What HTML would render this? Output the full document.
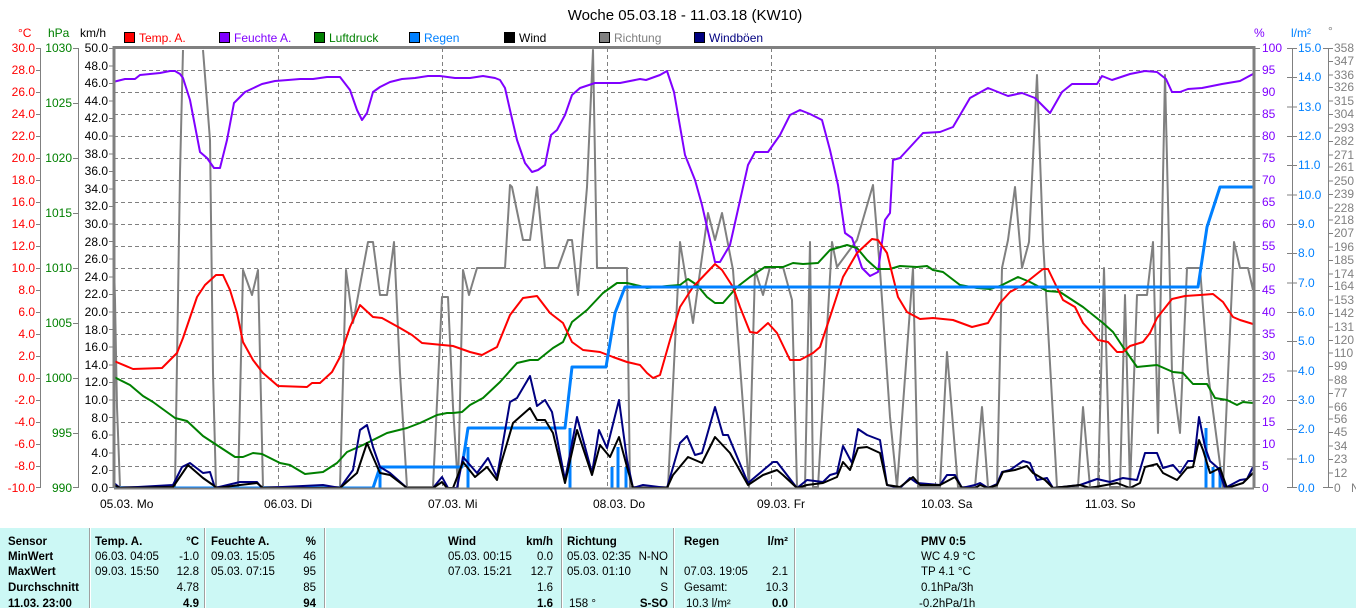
<!DOCTYPE html>
<html><head><meta charset="utf-8"><style>
html,body{margin:0;padding:0;background:#fff;}
svg{display:block;font-family:"Liberation Sans",sans-serif;}
</style></head><body>
<svg width="1356" height="608" viewBox="0 0 1356 608" xmlns="http://www.w3.org/2000/svg">
<rect width="1356" height="608" fill="#fff"/>
<text x="685" y="20" font-size="15" text-anchor="middle" fill="#000">Woche 05.03.18 - 11.03.18 (KW10)</text>
<g font-size="12">
<text x="18" y="37" fill="#f00">°C</text>
<text x="48" y="37" fill="#008000">hPa</text>
<text x="80" y="37" fill="#000">km/h</text>
<text x="1254" y="37" fill="#8000ff">%</text>
<text x="1291" y="37" fill="#0080ff">l/m²</text>
<text x="1328" y="35" fill="#808080">°</text>
</g>
<g font-size="12">
<rect x="124.5" y="32.5" width="10" height="10" fill="#f00" stroke="#000"/><text x="139" y="42" fill="#f00">Temp. A.</text>
<rect x="219.5" y="32.5" width="10" height="10" fill="#8000ff" stroke="#000"/><text x="234" y="42" fill="#8000ff">Feuchte A.</text>
<rect x="314.5" y="32.5" width="10" height="10" fill="#008000" stroke="#000"/><text x="329" y="42" fill="#008000">Luftdruck</text>
<rect x="409.5" y="32.5" width="10" height="10" fill="#0080ff" stroke="#000"/><text x="424" y="42" fill="#0080ff">Regen</text>
<rect x="504.5" y="32.5" width="10" height="10" fill="#000" stroke="#000"/><text x="519" y="42" fill="#000">Wind</text>
<rect x="599.5" y="32.5" width="10" height="10" fill="#808080" stroke="#000"/><text x="614" y="42" fill="#808080">Richtung</text>
<rect x="694.5" y="32.5" width="10" height="10" fill="#000080" stroke="#000"/><text x="709" y="42" fill="#000080">Windböen</text>
</g>
<g stroke="#808080" stroke-width="1" stroke-dasharray="4,3" fill="none">
<path d="M114 70.5H1254M114 92.5H1254M114 114.5H1254M114 136.5H1254M114 158.5H1254M114 180.5H1254M114 202.5H1254M114 224.5H1254M114 246.5H1254M114 268.5H1254M114 290.5H1254M114 312.5H1254M114 334.5H1254M114 356.5H1254M114 378.5H1254M114 400.5H1254M114 422.5H1254M114 444.5H1254M114 466.5H1254"/>
<path d="M278.5 48V488M442.5 48V488M607.5 48V488M771.5 48V488M935.5 48V488M1099.5 48V488"/>
</g>
<g stroke="#808080" stroke-width="1" fill="none">
<path d="M40.5 48V488M78.5 48V488M1292.5 48V488M1328.5 48V488"/>
<path d="M36 48.5h4M36 70.5h4M36 92.5h4M36 114.5h4M36 136.5h4M36 158.5h4M36 180.5h4M36 202.5h4M36 224.5h4M36 246.5h4M36 268.5h4M36 290.5h4M36 312.5h4M36 334.5h4M36 356.5h4M36 378.5h4M36 400.5h4M36 422.5h4M36 444.5h4M36 466.5h4M36 487.5h4"/>
<path d="M73 48.5h5M73 103.5h5M73 158.5h5M73 213.5h5M73 268.5h5M73 323.5h5M73 378.5h5M73 433.5h5M73 487.5h5"/>
<path d="M109 48.5h5M109 66h5M109 83.5h5M109 101h5M109 118.5h5M109 136h5M109 154h5M109 171.5h5M109 189h5M109 206.5h5M109 224h5M109 241.5h5M109 259h5M109 277h5M109 294.5h5M109 312h5M109 329.5h5M109 347h5M109 365h5M109 382.5h5M109 400h5M109 417.5h5M109 435h5M109 453h5M109 470.5h5M109 487.5h5"/>
<path d="M1254 48.5h6M1254 70.5h6M1254 92.5h6M1254 114.5h6M1254 136.5h6M1254 158.5h6M1254 180.5h6M1254 202.5h6M1254 224.5h6M1254 246.5h6M1254 268.5h6M1254 290.5h6M1254 312.5h6M1254 334.5h6M1254 356.5h6M1254 378.5h6M1254 400.5h6M1254 422.5h6M1254 444.5h6M1254 466.5h6M1254 487.5h6"/>
<path d="M1287 48.5h10M1287 77.5h10M1287 107h10M1287 136.5h10M1287 165.5h10M1287 195h10M1287 224.5h10M1287 253.5h10M1287 283h10M1287 312.5h10M1287 341.5h10M1287 371h10M1287 400.5h10M1287 429.5h10M1287 459h10M1287 487.5h10"/>
<path d="M1323 48.5h10M1328 61.5h5M1328 75h5M1328 87.5h5M1328 101h5M1328 114.5h5M1328 128h5M1328 141.5h5M1328 155h5M1328 167h5M1328 181h5M1328 194.5h5M1328 208h5M1328 220h5M1328 233.5h5M1328 247h5M1328 260.5h5M1328 274h5M1328 286.5h5M1328 300h5M1328 313.5h5M1328 327h5M1328 340.5h5M1328 353h5M1328 366.5h5M1328 380h5M1328 393.5h5M1328 407h5M1328 419h5M1328 432.5h5M1328 446h5M1328 459.5h5M1328 473h5M1323 487.5h10"/>
</g>
<g font-size="12" text-anchor="end" fill="#f00">
<text x="35" y="52">30.0</text><text x="35" y="74">28.0</text><text x="35" y="96">26.0</text><text x="35" y="118">24.0</text><text x="35" y="140">22.0</text><text x="35" y="162">20.0</text><text x="35" y="184">18.0</text><text x="35" y="206">16.0</text><text x="35" y="228">14.0</text><text x="35" y="250">12.0</text><text x="35" y="272">10.0</text><text x="35" y="294">8.0</text><text x="35" y="316">6.0</text><text x="35" y="338">4.0</text><text x="35" y="360">2.0</text><text x="35" y="382">0.0</text><text x="35" y="404">-2.0</text><text x="35" y="426">-4.0</text><text x="35" y="448">-6.0</text><text x="35" y="470">-8.0</text><text x="35" y="492">-10.0</text>
</g>
<g font-size="12" text-anchor="end" fill="#008000">
<text x="72" y="52">1030</text><text x="72" y="107">1025</text><text x="72" y="162">1020</text><text x="72" y="217">1015</text><text x="72" y="272">1010</text><text x="72" y="327">1005</text><text x="72" y="382">1000</text><text x="72" y="437">995</text><text x="72" y="492">990</text>
</g>
<g font-size="12" text-anchor="end" fill="#000">
<text x="108" y="52">50.0</text><text x="108" y="70">48.0</text><text x="108" y="87">46.0</text><text x="108" y="105">44.0</text><text x="108" y="122">42.0</text><text x="108" y="140">40.0</text><text x="108" y="158">38.0</text><text x="108" y="175">36.0</text><text x="108" y="193">34.0</text><text x="108" y="210">32.0</text><text x="108" y="228">30.0</text><text x="108" y="246">28.0</text><text x="108" y="263">26.0</text><text x="108" y="281">24.0</text><text x="108" y="298">22.0</text><text x="108" y="316">20.0</text><text x="108" y="334">18.0</text><text x="108" y="351">16.0</text><text x="108" y="369">14.0</text><text x="108" y="386">12.0</text><text x="108" y="404">10.0</text><text x="108" y="422">8.0</text><text x="108" y="439">6.0</text><text x="108" y="457">4.0</text><text x="108" y="474">2.0</text><text x="108" y="492">0.0</text>
</g>
<g font-size="12" fill="#8000ff">
<text x="1262" y="52">100</text><text x="1262" y="74">95</text><text x="1262" y="96">90</text><text x="1262" y="118">85</text><text x="1262" y="140">80</text><text x="1262" y="162">75</text><text x="1262" y="184">70</text><text x="1262" y="206">65</text><text x="1262" y="228">60</text><text x="1262" y="250">55</text><text x="1262" y="272">50</text><text x="1262" y="294">45</text><text x="1262" y="316">40</text><text x="1262" y="338">35</text><text x="1262" y="360">30</text><text x="1262" y="382">25</text><text x="1262" y="404">20</text><text x="1262" y="426">15</text><text x="1262" y="448">10</text><text x="1262" y="470">5</text><text x="1262" y="492">0</text>
</g>
<g font-size="12" fill="#0080ff">
<text x="1298" y="52">15.0</text><text x="1298" y="81">14.0</text><text x="1298" y="111">13.0</text><text x="1298" y="140">12.0</text><text x="1298" y="169">11.0</text><text x="1298" y="199">10.0</text><text x="1298" y="228">9.0</text><text x="1298" y="257">8.0</text><text x="1298" y="287">7.0</text><text x="1298" y="316">6.0</text><text x="1298" y="345">5.0</text><text x="1298" y="375">4.0</text><text x="1298" y="404">3.0</text><text x="1298" y="433">2.0</text><text x="1298" y="463">1.0</text><text x="1298" y="492">0.0</text>
</g>
<g font-size="12" fill="#808080">
<text x="1334" y="52">358</text><text x="1334" y="65">347</text><text x="1334" y="79">336</text><text x="1334" y="91">326</text><text x="1334" y="105">315</text><text x="1334" y="118">304</text><text x="1334" y="132">293</text><text x="1334" y="145">282</text><text x="1334" y="159">271</text><text x="1334" y="171">261</text><text x="1334" y="185">250</text><text x="1334" y="198">239</text><text x="1334" y="212">228</text><text x="1334" y="224">218</text><text x="1334" y="237">207</text><text x="1334" y="251">196</text><text x="1334" y="264">185</text><text x="1334" y="278">174</text><text x="1334" y="290">164</text><text x="1334" y="304">153</text><text x="1334" y="317">142</text><text x="1334" y="331">131</text><text x="1334" y="344">120</text><text x="1334" y="357">110</text><text x="1334" y="370">99</text><text x="1334" y="384">88</text><text x="1334" y="397">77</text><text x="1334" y="411">66</text><text x="1334" y="423">56</text><text x="1334" y="436">45</text><text x="1334" y="450">34</text><text x="1334" y="463">23</text><text x="1334" y="477">12</text><text x="1334" y="492">0</text>
<text x="1351" y="492">N</text>
</g>
<g font-size="12" fill="#000">
<text x="100" y="508">05.03.  Mo</text><text x="264" y="508">06.03.  Di</text><text x="428" y="508">07.03.  Mi</text><text x="593" y="508">08.03.  Do</text><text x="757" y="508">09.03.  Fr</text><text x="921" y="508">10.03.  Sa</text><text x="1085" y="508">11.03.  So</text>
</g>
<g fill="none" stroke-linejoin="round">
<polyline stroke="#808080" stroke-width="2" points="114,265 115,300 117,407 120,487 175,487 180,173 183,50"/>
<polyline stroke="#808080" stroke-width="2" points="203,50 210,140 213,373 216,487 238,487 243,270 252,295 258,270 263,487 340,487 346,270 353,323 368,242 373,242 380,295 387,295 394,242 400,373 407,487 433,487 442,297 448,297 453,407 458,487 463,270 469,295 477,268 505,268 510,185 512,187 523,240 530,240 537,187 545,268 558,268 568,240 572,240 578,295 587,187 593,50 597,268 627,268 630,487 668,487 680,242 693,323 708,213 715,240 722,213 733,270 749,487 755,270 763,295 770,267 783,267 792,300 797,487 805,487 810,242 813,487 818,487 832,242 837,267 857,240 873,185 880,270 890,417 897,487 913,268 918,487 940,487 947,352 958,487 975,487 982,407 988,487 997,487 1002,268 1008,240 1015,187 1022,268 1029,242 1037,75 1043,240 1057,487 1078,487 1083,407 1090,487 1098,487 1104,268 1110,487 1120,487 1125,295 1130,487 1137,295 1147,295 1153,242 1158,433 1165,75 1172,373 1180,433 1187,268 1200,268 1208,373 1223,487 1234,242 1240,268 1248,268 1253,290"/>
<polyline stroke="#8000ff" stroke-width="2" points="113,82 125,79 135,79 140,75 160,73 170,71 175,71 180,74 183,78 190,100 200,152 207,158 214,168 220,168 227,140 234,103 245,92 262,84 275,81 288,80 300,79 313,79 327,77 340,77 350,90 357,110 362,120 367,113 373,92 380,87 390,82 402,79 415,78 428,76 440,76 455,78 470,78 483,76 495,78 500,80 505,88 510,110 517,140 525,163 532,172 538,170 545,165 551,135 557,130 565,115 572,95 580,88 595,83 620,83 640,79 646,80 660,75 667,71 674,92 685,155 695,180 702,205 715,262 720,262 730,245 748,165 755,152 768,152 780,135 790,115 800,110 810,114 822,120 830,150 838,185 845,233 852,238 862,268 870,276 878,272 885,220 890,213 893,160 900,158 912,145 923,133 940,132 953,127 970,98 988,88 1008,96 1022,93 1035,98 1050,113 1062,92 1072,84 1097,84 1102,76 1112,80 1130,74 1145,71 1157,72 1166,79 1172,92 1180,92 1188,89 1202,88 1222,84 1240,81 1253,74"/>
<polyline stroke="#008000" stroke-width="2" points="114,377 130,385 143,396 153,402 175,418 187,421 203,436 235,457 243,457 253,453 262,454 280,463 290,465 305,474 323,472 337,463 347,452 363,445 387,433 407,428 420,423 437,415 447,413 453,413 462,412 470,405 483,398 500,382 517,363 530,360 538,360 553,348 563,342 572,322 587,310 603,293 617,283 627,283 640,286 647,288 667,286 680,285 688,279 697,285 707,297 715,303 723,303 737,287 750,277 765,267 783,267 793,263 803,264 818,263 830,250 847,245 857,248 867,260 877,269 890,269 900,266 917,267 927,266 933,270 943,272 960,285 977,288 990,289 1000,286 1018,277 1030,282 1047,291 1060,292 1083,307 1103,323 1113,332 1123,347 1137,367 1157,365 1173,372 1183,373 1193,384 1207,384 1215,398 1227,400 1237,405 1243,402 1253,403"/>
<polyline stroke="#f00" stroke-width="2" points="114,361 133,369 162,368 177,353 183,338 197,297 205,285 216,275 223,275 230,290 237,313 243,342 253,360 263,373 278,386 307,387 312,383 320,383 332,372 340,357 350,327 360,305 373,317 382,318 400,328 412,335 422,343 453,346 470,352 482,355 497,347 510,315 523,298 537,296 550,313 563,323 572,342 583,350 600,352 613,357 627,362 640,365 647,373 653,378 660,375 670,340 680,307 693,287 715,264 722,270 733,287 740,307 750,332 757,333 768,323 777,333 790,360 800,360 813,353 820,347 830,317 843,277 857,253 872,239 878,240 887,253 898,297 907,312 920,319 933,318 953,320 972,327 988,323 1000,303 1010,292 1023,285 1033,277 1043,269 1048,269 1063,300 1075,307 1083,323 1098,340 1108,342 1117,352 1123,352 1130,346 1143,342 1150,333 1157,318 1172,299 1185,296 1200,295 1213,294 1223,302 1233,317 1240,320 1253,324"/>
<polyline stroke="#0080ff" stroke-width="3" points="114,488 373,488 380,467 462,467 468,428 565,428 572,367 606,367 615,313 625,287 1198,287 1207,227 1220,187 1253,187"/>
<path stroke="#0080ff" stroke-width="3" d="M380 467V488M468 447V488M570 428V488M612 467V488M618 447V488M626 467V488M1206 428V488M1213 467V488M1220 467V488"/>
<polyline stroke="#000080" stroke-width="2" points="114,483 120,488 173,485 182,467 190,463 203,473 210,472 215,488 240,482 257,482 262,488 323,485 340,488 353,470 360,430 367,425 373,447 380,467 390,473 407,488 433,488 442,477 448,488 457,488 463,457 477,473 488,458 497,477 510,402 517,398 530,376 537,406 545,400 552,412 565,480 577,417 592,473 599,430 607,448 619,400 627,460 633,488 643,485 667,488 680,443 687,436 695,455 702,453 715,407 723,435 728,435 748,483 773,462 777,462 797,488 807,480 823,482 830,475 837,473 843,446 852,463 858,429 867,435 880,440 887,485 900,488 910,478 917,483 940,485 947,475 955,475 962,488 975,485 980,483 988,488 997,484 1002,472 1010,470 1023,461 1030,463 1037,480 1047,478 1053,488 1080,485 1097,479 1110,482 1123,478 1137,480 1145,453 1157,453 1163,468 1173,465 1180,473 1188,461 1194,461 1199,417 1205,447 1210,461 1218,468 1225,488 1240,480 1247,479 1253,467"/>
<polyline stroke="#000" stroke-width="2" points="114,485 120,488 173,487 188,465 203,478 213,485 217,488 240,485 257,483 263,488 340,488 357,473 367,443 373,457 380,473 390,475 407,488 433,488 442,482 447,488 453,488 463,462 475,477 487,467 497,480 500,467 513,423 530,408 537,420 545,420 553,433 565,483 577,430 592,475 600,445 610,457 619,437 627,467 633,488 667,488 673,475 688,457 702,463 715,437 730,453 748,485 763,475 777,470 783,475 797,488 807,485 823,483 837,477 843,462 850,470 858,448 867,447 880,453 887,485 900,487 913,477 920,485 940,485 955,477 962,488 975,488 980,485 988,488 997,485 1003,472 1015,470 1027,466 1033,473 1045,480 1053,488 1080,485 1090,488 1117,483 1130,488 1140,483 1145,467 1157,464 1163,473 1177,480 1187,468 1193,467 1199,440 1203,450 1210,473 1220,468 1227,488 1243,483 1253,473"/>
</g>
<path d="M114 488V47.5H1254V488" fill="none" stroke="#808080" stroke-width="3"/>
<path d="M114 488.5H1254" stroke="#808080" stroke-width="2"/>
<rect x="0" y="528" width="1356" height="80" fill="#ccf8f5"/>
<g stroke="#a0a0a0" stroke-width="1">
<path d="M89.5 528V608M204.5 528V608M324.5 528V608M561.5 528V608M673.5 528V608M794.5 528V608"/>
</g>
<g stroke="#fff" stroke-width="1">
<path d="M90.5 528V608M205.5 528V608M325.5 528V608M562.5 528V608M674.5 528V608M795.5 528V608"/>
</g>
<g font-size="11.5" fill="#000">
<g font-weight="bold">
<text x="8" y="545">Sensor</text><text x="8" y="560">MinWert</text><text x="8" y="575">MaxWert</text><text x="8" y="591">Durchschnitt</text><text x="8" y="607">11.03. 23:00</text>
<text x="95" y="545">Temp. A.</text><text x="199" y="545" text-anchor="end">°C</text>
<text x="211" y="545">Feuchte A.</text><text x="316" y="545" text-anchor="end">%</text>
<text x="448" y="545">Wind</text><text x="553" y="545" text-anchor="end">km/h</text>
<text x="567" y="545">Richtung</text>
<text x="684" y="545">Regen</text><text x="788" y="545" text-anchor="end">l/m²</text>
<text x="921" y="545">PMV 0:5</text>
<text x="199" y="607" text-anchor="end">4.9</text><text x="316" y="607" text-anchor="end">94</text><text x="553" y="607" text-anchor="end">1.6</text><text x="668" y="607" text-anchor="end">S-SO</text><text x="788" y="607" text-anchor="end">0.0</text>
</g>
<text x="95" y="560">06.03.  04:05</text><text x="199" y="560" text-anchor="end">-1.0</text>
<text x="95" y="575">09.03.  15:50</text><text x="199" y="575" text-anchor="end">12.8</text>
<text x="199" y="591" text-anchor="end">4.78</text>
<text x="211" y="560">09.03.  15:05</text><text x="316" y="560" text-anchor="end">46</text>
<text x="211" y="575">05.03.  07:15</text><text x="316" y="575" text-anchor="end">95</text>
<text x="316" y="591" text-anchor="end">85</text>
<text x="448" y="560">05.03.  00:15</text><text x="553" y="560" text-anchor="end">0.0</text>
<text x="448" y="575">07.03.  15:21</text><text x="553" y="575" text-anchor="end">12.7</text>
<text x="553" y="591" text-anchor="end">1.6</text>
<text x="567" y="560">05.03.  02:35</text><text x="668" y="560" text-anchor="end">N-NO</text>
<text x="567" y="575">05.03.  01:10</text><text x="668" y="575" text-anchor="end">N</text>
<text x="668" y="591" text-anchor="end">S</text>
<text x="569" y="607">158 °</text>
<text x="684" y="575">07.03.  19:05</text><text x="788" y="575" text-anchor="end">2.1</text>
<text x="684" y="591">Gesamt:</text><text x="788" y="591" text-anchor="end">10.3</text>
<text x="686" y="607">10.3 l/m²</text>
<text x="921" y="560">WC 4.9 °C</text>
<text x="921" y="575">TP 4.1 °C</text>
<text x="921" y="591">0.1hPa/3h</text>
<text x="919" y="607">-0.2hPa/1h</text>
</g>
</svg>
</body></html>
